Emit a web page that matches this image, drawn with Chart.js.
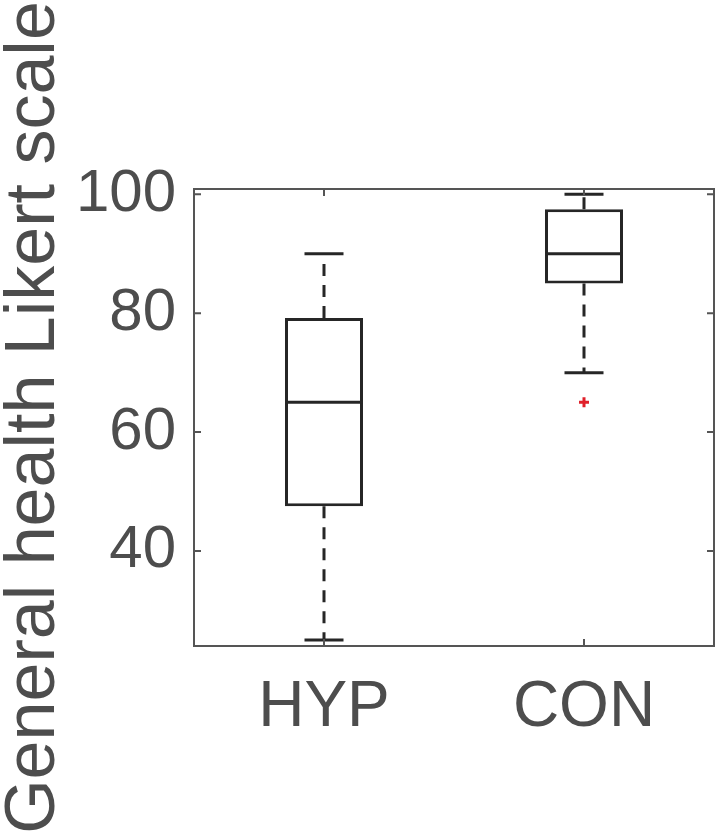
<!DOCTYPE html>
<html>
<head>
<meta charset="utf-8">
<script src="https://cdn.jsdelivr.net/npm/chart.js@4"></script>
<style>
	html, body { margin: 0; padding: 0; background: #fff; overflow: hidden; }
	#wrap { width: 722px; height: 835px; }
</style>
</head>
<body>
<div id="wrap"><canvas id="chart"></canvas></div>
<script>
// groups and box stats
const groups = ['HYP', 'CON'];
const lowerWhisker = [25, 70];
const q1 = [47.5, 85];
const median = [65, 90];
const q3 = [79.2, 97.5];
const upperWhisker = [90, 100];
const outliers = [null, 65];
const yTicks = [40, 60, 80, 100];

const axisGray = '#555555';
const textGray = '#4d4d4d';
const boxColor = '#262626';

// whiskers, caps, medians, frame and inward ticks (matlab style)
const boxExtras = {
	id: 'boxExtras',
	afterDatasetsDraw(chart) {
		const ctx = chart.ctx;
		const y = chart.scales.y;
		const meta = chart.getDatasetMeta(0);
		ctx.save();
		ctx.strokeStyle = boxColor;
		ctx.lineWidth = 3;
		meta.data.forEach((bar, i) => {
			const cx = bar.x;
			const half = bar.width / 2;
			// median
			ctx.setLineDash([]);
			ctx.beginPath();
			ctx.moveTo(cx - half, y.getPixelForValue(median[i]));
			ctx.lineTo(cx + half, y.getPixelForValue(median[i]));
			ctx.stroke();
			// caps
			[lowerWhisker[i], upperWhisker[i]].forEach((v) => {
				ctx.beginPath();
				ctx.moveTo(cx - half / 2, y.getPixelForValue(v));
				ctx.lineTo(cx + half / 2, y.getPixelForValue(v));
				ctx.stroke();
			});
			// dashed whiskers
			ctx.setLineDash([12, 9]);
			ctx.beginPath();
			ctx.moveTo(cx, y.getPixelForValue(q3[i]));
			ctx.lineTo(cx, y.getPixelForValue(upperWhisker[i]));
			ctx.moveTo(cx, y.getPixelForValue(q1[i]));
			ctx.lineTo(cx, y.getPixelForValue(lowerWhisker[i]));
			ctx.stroke();
		});
		ctx.restore();

		// frame + ticks
		const a = chart.chartArea;
		const x = chart.scales.x;
		ctx.save();
		ctx.strokeStyle = axisGray;
		ctx.lineWidth = 2;
		ctx.strokeRect(a.left, a.top, a.right - a.left, a.bottom - a.top);
		ctx.beginPath();
		yTicks.forEach((v) => {
			const py = y.getPixelForValue(v);
			ctx.moveTo(a.left, py); ctx.lineTo(a.left + 7, py);
			ctx.moveTo(a.right, py); ctx.lineTo(a.right - 7, py);
		});
		groups.forEach((g, i) => {
			const px = x.getPixelForValue(i);
			ctx.moveTo(px, a.bottom); ctx.lineTo(px, a.bottom - 7);
			ctx.moveTo(px, a.top); ctx.lineTo(px, a.top + 7);
		});
		ctx.stroke();
		ctx.restore();
	}
};

const ctx = document.getElementById('chart').getContext('2d');
const chart = new Chart(ctx, {
	type: 'bar',
	data: {
		labels: groups,
		datasets: [
			{
				data: groups.map((g, i) => [q1[i], q3[i]]),
				backgroundColor: '#ffffff',
				borderColor: boxColor,
				borderWidth: 3,
				borderSkipped: false,
				barPercentage: 0.3,
				categoryPercentage: 1
			},
			{
				type: 'line',
				data: outliers,
				showLine: false,
				pointStyle: 'cross',
				pointRadius: 5,
				pointBorderWidth: 3,
				borderColor: '#e0202a',
				backgroundColor: '#e0202a'
			}
		]
	},
	options: {
		responsive: true,
		maintainAspectRatio: false,
		animation: false,
		layout: { padding: { top: 189, right: 1, left: 0, bottom: 0 } },
		plugins: {
			legend: { display: false },
			tooltip: { enabled: false }
		},
		scales: {
			x: {
				grid: { display: false, drawTicks: false },
				border: { display: false },
				ticks: {
					color: textGray,
					padding: 24,
					font: { family: 'Liberation Sans, Arial, sans-serif', size: 64 }
				},
				afterFit: (s) => {
					s.height = 189;
					s.paddingLeft = 0;
					s.paddingRight = 0;
				}
			},
			y: {
				min: 24,
				max: 100.9,
				grid: { display: false, drawTicks: false },
				border: { display: false },
				afterBuildTicks: (s) => { s.ticks = yTicks.map((v) => ({ value: v })); },
				ticks: {
					color: textGray,
					padding: 18,
					font: { family: 'Liberation Sans, Arial, sans-serif', size: 60 }
				},
				title: {
					display: true,
					text: 'General health Likert scale',
					color: textGray,
					padding: 0,
					font: { family: 'Liberation Sans, Arial, sans-serif', size: 70, lineHeight: 1 }
				},
				afterFit: (s) => { s.width = 194; }
			}
		}
	},
	plugins: [boxExtras]
});
</script>
</body>
</html>
